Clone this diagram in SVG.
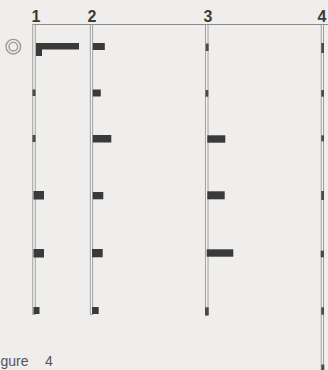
<svg xmlns="http://www.w3.org/2000/svg" width="328" height="370" viewBox="0 0 328 370">
<style>
.lbl{font-family:"Liberation Sans",Arial,sans-serif;font-weight:bold;font-size:16px;fill:#3a3a3a;text-anchor:middle}
.cap{font-family:"Liberation Sans",Arial,sans-serif;font-size:14px;fill:#555555}
.col{fill:#f4f4f2;stroke:#8a8a8a;stroke-width:0.8}
.bar{fill:#3a3a3a}
.mk{fill:#4a4a4a}
</style>
<rect width="328" height="370" fill="#efeeec"/>
<g id="connectors">
<line x1="33" y1="24.5" x2="328" y2="24.5" stroke="#8a8a8a" stroke-width="1"/>
<rect class="col" x="32.8" y="24.5" width="2.4" height="290"/>
<rect class="col" x="90.3" y="24.5" width="2.4" height="290"/>
<rect class="col" x="205.6" y="24.5" width="2.4" height="291"/>
<rect class="col" x="321.2" y="24.5" width="2.4" height="346"/>
</g>
<g id="labels">
<text class="lbl" x="36" y="22">1</text>
<text class="lbl" x="92" y="22">2</text>
<text class="lbl" x="208" y="22">3</text>
<text class="lbl" x="322" y="22">4</text>
</g>
<g id="marker">
<circle cx="13.3" cy="46.7" r="7.3" fill="none" stroke="#9a9a9a" stroke-width="1.4"/>
<circle cx="13.3" cy="46.7" r="4.3" fill="none" stroke="#9a9a9a" stroke-width="1.4"/>
</g>
<g id="col1">
<rect class="bar" x="36" y="43" width="43" height="6.5"/>
<rect class="bar" x="36" y="43" width="6" height="13"/>
<rect class="mk" x="32.5" y="89.5" width="3" height="6.5"/>
<rect class="mk" x="32.5" y="135" width="3" height="7"/>
<rect class="bar" x="33.5" y="191" width="10.5" height="8.5"/>
<rect class="bar" x="33.5" y="249" width="10.5" height="8.5"/>
<rect class="bar" x="33.5" y="307" width="6" height="7"/>
</g>
<g id="col2">
<rect class="bar" x="92.8" y="43" width="12" height="7"/>
<rect class="bar" x="92.8" y="89.5" width="8" height="7"/>
<rect class="bar" x="92.8" y="135" width="18.5" height="7.5"/>
<rect class="bar" x="92.8" y="192" width="10.5" height="7.3"/>
<rect class="bar" x="92" y="249" width="10.7" height="8.3"/>
<rect class="bar" x="92" y="307" width="6.7" height="7"/>
</g>
<g id="col3">
<rect class="mk" x="205.8" y="43.5" width="2.8" height="7.5"/>
<rect class="mk" x="205.5" y="90" width="2.8" height="6.7"/>
<rect class="bar" x="207.3" y="135.3" width="18" height="7.4"/>
<rect class="bar" x="207.3" y="191.3" width="17.4" height="8"/>
<rect class="bar" x="206.7" y="249.3" width="26.6" height="7.4"/>
<rect class="mk" x="205" y="307.3" width="3.7" height="8"/>
</g>
<g id="col4">
<rect class="mk" x="321.3" y="43" width="2.7" height="10"/>
<rect class="mk" x="321.3" y="90" width="2.7" height="6.7"/>
<rect class="mk" x="321.3" y="135.3" width="2.7" height="6"/>
<rect class="mk" x="321.3" y="191" width="2.7" height="9"/>
<rect class="mk" x="320.7" y="250.7" width="3.3" height="6.6"/>
<rect class="mk" x="321.3" y="307.3" width="2.7" height="7.4"/>
<rect class="mk" x="321.3" y="364.5" width="3" height="5.5"/>
</g>
<g id="caption">
<text class="cap" x="0.5" y="366">gure</text>
<text class="cap" x="45" y="366">4</text>
</g>
</svg>
